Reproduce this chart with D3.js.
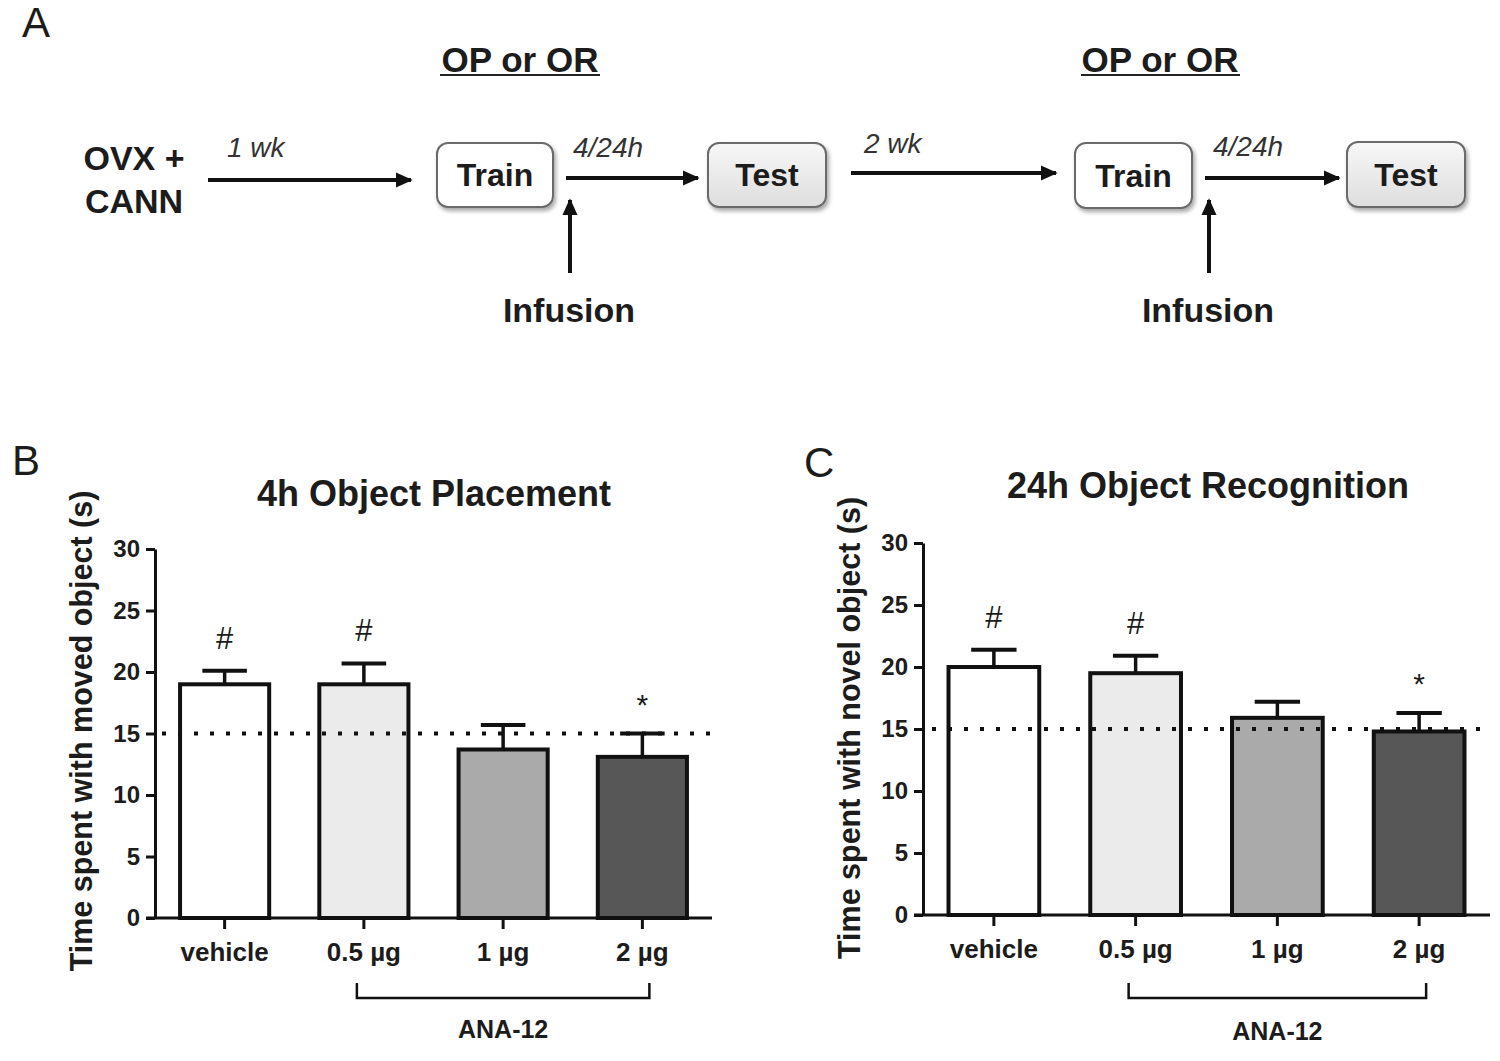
<!DOCTYPE html>
<html><head><meta charset="utf-8">
<script src="https://cdn.jsdelivr.net/npm/d3@7"></script>
<style>
html,body{margin:0;padding:0;background:#fff;}
text{font-family:"Liberation Sans",Arial,Helvetica,sans-serif;fill:#1c1c1c;}
</style></head>
<body>
<script>
// ---------- DATA ----------
const categories = ["vehicle", "0.5 µg", "1 µg", "2 µg"];
const placementMeans = [19.0, 19.0, 13.7, 13.1];
const placementSEM   = [1.1, 1.7, 2.0, 1.9];
const recognitionMeans = [20.0, 19.5, 15.9, 14.8];
const recognitionSEM   = [1.4, 1.4, 1.3, 1.5];
const placementMarks   = ["#", "#", "", "*"];
const recognitionMarks = ["#", "#", "", "*"];
const yTicks = [0, 5, 10, 15, 20, 25, 30];
const chanceLevel = 15;
const barFills = ["#ffffff", "#ebebeb", "#aaaaaa", "#575757"];
const groupLabel = "ANA-12";

// ---------- SVG ----------
const W = 1500, H = 1061;
const svg = d3.select("body").append("svg").attr("width", W).attr("height", H);
const defs = svg.append("defs");
defs.append("marker").attr("id", "ah").attr("viewBox", "0 0 10 10")
  .attr("refX", 9).attr("refY", 5).attr("markerWidth", 4.2).attr("markerHeight", 4.2)
  .attr("markerUnits", "strokeWidth").attr("orient", "auto")
  .append("path").attr("d", "M0,0.5 L10,5 L0,9.5 Z").attr("fill", "#111");
const sh = defs.append("filter").attr("id", "shadow").attr("x", "-20%").attr("y", "-20%").attr("width", "150%").attr("height", "160%");
sh.append("feDropShadow").attr("dx", 2).attr("dy", 3).attr("stdDeviation", 2.2).attr("flood-color", "#000").attr("flood-opacity", 0.35);
const grad = defs.append("linearGradient").attr("id", "testGrad").attr("x1", 0).attr("y1", 0).attr("x2", 0).attr("y2", 1);
grad.append("stop").attr("offset", "0%").attr("stop-color", "#f7f7f7");
grad.append("stop").attr("offset", "100%").attr("stop-color", "#dedede");

// ---------- PANEL A (schematic) ----------
const A = svg.append("g");
A.append("text").attr("x", 22).attr("y", 37).attr("font-size", 42).text("A");

function label(x, y, t, size, opts = {}) {
  return A.append("text").attr("x", x).attr("y", y).attr("text-anchor", opts.anchor || "middle")
    .attr("font-size", size).attr("font-weight", opts.weight || "bold")
    .attr("font-style", opts.italic ? "italic" : "normal")
    .style("fill", opts.fill || "#1c1c1c").text(t);
}
function arrow(x1, y1, x2, y2) {
  A.append("line").attr("x1", x1).attr("y1", y1).attr("x2", x2).attr("y2", y2)
    .attr("stroke", "#111").attr("stroke-width", 4).attr("marker-end", "url(#ah)");
}
function box(x, y, w, h, t, fill) {
  A.append("rect").attr("x", x).attr("y", y).attr("width", w).attr("height", h)
    .attr("rx", 11).attr("ry", 11).attr("fill", fill).attr("stroke", "#6a6a6a")
    .attr("stroke-width", 2).attr("filter", "url(#shadow)");
  label(x + w / 2, y + h / 2 + 11, t, 32);
}

label(134, 170, "OVX +", 34);
label(134, 213, "CANN", 34);
label(227, 157, "1 wk", 28, {anchor: "start", italic: true, weight: "normal", fill: "#333"});
arrow(208, 180, 411, 180);
box(437, 143, 116, 64, "Train", "#ffffff");
label(573, 157, "4/24h", 28, {anchor: "start", italic: true, weight: "normal", fill: "#333"});
arrow(566, 178, 698, 178);
box(708, 143, 118, 64, "Test", "url(#testGrad)");
arrow(570, 273, 570, 200);
label(569, 322, "Infusion", 34);
label(520, 72, "OP or OR", 35);
A.append("line").attr("x1", 440).attr("x2", 600).attr("y1", 75).attr("y2", 75).attr("stroke", "#222").attr("stroke-width", 2);

label(864, 153, "2 wk", 28, {anchor: "start", italic: true, weight: "normal", fill: "#333"});
arrow(851, 173, 1056, 173);
box(1075, 143, 117, 65, "Train", "#ffffff");
label(1213, 156, "4/24h", 28, {anchor: "start", italic: true, weight: "normal", fill: "#333"});
arrow(1205, 178, 1339, 178);
box(1347, 142, 118, 65, "Test", "url(#testGrad)");
arrow(1209, 273, 1209, 200);
label(1208, 322, "Infusion", 34);
label(1160, 72, "OP or OR", 35);
A.append("line").attr("x1", 1081).attr("x2", 1240).attr("y1", 75).attr("y2", 75).attr("stroke", "#222").attr("stroke-width", 2);

// ---------- BAR PANELS ----------
function barPanel(cfg) {
  const g = svg.append("g");
  const x = d3.scaleBand().domain(categories).range([cfg.x0, cfg.x1]).paddingInner(0.36).paddingOuter(0.18);
  const y = d3.scaleLinear().domain([0, 30]).range([cfg.yBot, cfg.yTop]);

  g.append("text").attr("x", cfg.letterX).attr("y", cfg.letterY).attr("font-size", 42).text(cfg.letter);
  g.append("text").attr("x", cfg.titleX).attr("y", cfg.titleY).attr("text-anchor", "middle")
    .attr("font-size", 36).attr("font-weight", "bold").text(cfg.title);
  g.append("text").attr("transform", `translate(${cfg.ylabX},${cfg.ylabY}) rotate(-90)`)
    .attr("text-anchor", "middle").attr("font-size", 30.5).attr("font-weight", "bold").text(cfg.ylab);

  const data = categories.map((c, i) => ({c, m: cfg.means[i], e: cfg.sem[i], f: barFills[i], mark: cfg.marks[i]}));
  // error bars
  data.forEach(d => {
    const cx = x(d.c) + x.bandwidth() / 2;
    g.append("line").attr("x1", cx).attr("x2", cx).attr("y1", y(d.m)).attr("y2", y(d.m + d.e))
      .attr("stroke", "#111").attr("stroke-width", 3.5);
    g.append("line").attr("x1", cx - x.bandwidth() / 4).attr("x2", cx + x.bandwidth() / 4)
      .attr("y1", y(d.m + d.e)).attr("y2", y(d.m + d.e)).attr("stroke", "#111").attr("stroke-width", 4);
    if (d.mark) {
      g.append("text").attr("x", cx).attr("y", y(d.m + d.e) - 33 + (d.mark === "#" ? 11 : 14))
        .attr("text-anchor", "middle").attr("font-size", d.mark === "#" ? 31 : 30)
        .attr("font-weight", "normal").text(d.mark);
    }
  });
  g.selectAll("rect.bar").data(data).join("rect").attr("class", "bar")
    .attr("x", d => x(d.c)).attr("width", x.bandwidth())
    .attr("y", d => y(d.m)).attr("height", d => y(0) - y(d.m))
    .attr("fill", d => d.f).attr("stroke", "#111").attr("stroke-width", 4);

  // dotted chance line
  g.append("line").attr("x1", cfg.dotX0).attr("x2", cfg.x1).attr("y1", y(chanceLevel)).attr("y2", y(chanceLevel))
    .attr("stroke", "#111").attr("stroke-width", 4).attr("stroke-dasharray", "4 12");

  // axes
  const ya = g.append("g").attr("transform", `translate(${cfg.x0},0)`)
    .call(d3.axisLeft(y).tickValues(yTicks).tickSize(9).tickPadding(6).tickSizeOuter(0));
  ya.select(".domain").attr("stroke", "#111").attr("stroke-width", 3);
  ya.selectAll(".tick line").attr("stroke", "#111").attr("stroke-width", 3);
  ya.selectAll(".tick text").attr("font-size", 24).attr("font-weight", "bold")
    .attr("font-family", "Liberation Sans, Arial, sans-serif").style("fill", "#1c1c1c");

  const xa = g.append("g").attr("transform", `translate(0,${cfg.yBot})`)
    .call(d3.axisBottom(x).tickSize(11).tickPadding(14).tickSizeOuter(0));
  xa.select(".domain").attr("d", `M${cfg.x0 - 9},0H${cfg.x1}`).attr("stroke", "#111").attr("stroke-width", 3);
  xa.selectAll(".tick line").attr("stroke", "#111").attr("stroke-width", 3);
  xa.selectAll(".tick text").attr("font-size", 26).attr("font-weight", "bold")
    .attr("font-family", "Liberation Sans, Arial, sans-serif").style("fill", "#1c1c1c");

  // bracket
  const bx0 = x(categories[1]) + x.bandwidth() / 2 - 7, bx1 = x(categories[3]) + x.bandwidth() / 2 + 7;
  g.append("path").attr("d", `M${bx0},983V998H${bx1}V983`).attr("fill", "none")
    .attr("stroke", "#111").attr("stroke-width", 2.5);
  g.append("text").attr("x", (bx0 + bx1) / 2).attr("y", cfg.anaY).attr("text-anchor", "middle")
    .attr("font-size", 25).attr("font-weight", "bold").text(groupLabel);
}

barPanel({
  letter: "B", letterX: 12, letterY: 475,
  x0: 155, x1: 712, yTop: 549, yBot: 918,
  title: "4h Object Placement", titleX: 434, titleY: 506,
  ylab: "Time spent with moved object (s)", ylabX: 92, ylabY: 731,
  means: placementMeans, sem: placementSEM, marks: placementMarks,
  dotX0: 162, anaY: 1038
});
barPanel({
  letter: "C", letterX: 804, letterY: 477,
  x0: 923, x1: 1490, yTop: 543, yBot: 915,
  title: "24h Object Recognition", titleX: 1208, titleY: 498,
  ylab: "Time spent with novel object (s)", ylabX: 860, ylabY: 728,
  means: recognitionMeans, sem: recognitionSEM, marks: recognitionMarks,
  dotX0: 932, anaY: 1040
});
</script>
</body></html>
